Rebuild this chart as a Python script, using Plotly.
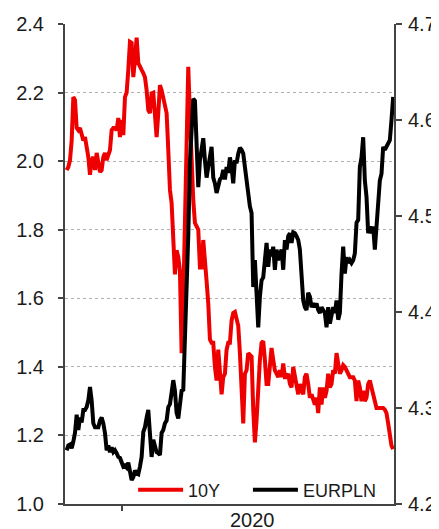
import plotly.graph_objects as go
import pandas as pd

# one point every two days, late Oct 2019 -> Nov 2020
dates = pd.date_range("2019-10-27", periods=197, freq="2D")

yield_10y = [
    1.974, 1.983, 2.003, 2.06, 2.187, 2.178, 2.097, 2.09, 2.097, 2.082,
    2.06, 2.07, 2.047, 2.012, 1.96, 2.003, 2.012, 1.974, 2.024, 1.995,
    1.968, 1.974, 2.012, 2.024, 2.003, 2.018, 2.032, 2.09, 2.097, 2.097,
    2.09, 2.126, 2.07, 2.12, 2.076, 2.187, 2.2, 2.266, 2.348, 2.345,
    2.245, 2.295, 2.36, 2.286, 2.272, 2.266, 2.257, 2.245, 2.207, 2.149,
    2.14, 2.198, 2.2, 2.129, 2.07, 2.14, 2.222, 2.207, 2.187, 2.158,
    2.14, 2.033, 1.916, 1.878, 1.78, 1.67, 1.74, 1.72, 1.68, 1.44,
    1.595, 1.837, 2.13, 2.275, 2.13, 1.983, 1.886, 1.82, 1.81, 1.80,
    1.69, 1.69, 1.77, 1.69, 1.65, 1.585, 1.48, 1.47, 1.47, 1.40,
    1.36, 1.45, 1.37, 1.32, 1.37, 1.38, 1.45, 1.47, 1.47, 1.535,
    1.557, 1.56, 1.54, 1.52, 1.44, 1.34, 1.235, 1.38, 1.39, 1.44,
    1.435, 1.43, 1.275, 1.18, 1.245, 1.36, 1.42, 1.47, 1.475, 1.42,
    1.35, 1.35, 1.42, 1.455, 1.42, 1.39, 1.38, 1.37, 1.39, 1.37,
    1.41, 1.37, 1.37, 1.38, 1.35, 1.34, 1.40, 1.37, 1.35, 1.32,
    1.35, 1.33, 1.32, 1.37, 1.38, 1.35, 1.31, 1.32, 1.30, 1.29,
    1.31, 1.265, 1.34, 1.29, 1.34, 1.31, 1.33, 1.38, 1.34, 1.35,
    1.39, 1.38, 1.44, 1.41, 1.38, 1.39, 1.405, 1.40, 1.39, 1.38,
    1.37, 1.37, 1.37, 1.36, 1.30, 1.36, 1.34, 1.30, 1.33, 1.30,
    1.31, 1.35, 1.36, 1.34, 1.32, 1.29, 1.28, 1.28, 1.28, 1.28,
    1.28, 1.275, 1.265, 1.235, 1.19, 1.17, 1.16,
]

eurpln = [
    4.256, 4.261, 4.262, 4.258, 4.265, 4.274, 4.293, 4.277, 4.29, 4.285,
    4.298, 4.298, 4.301, 4.308, 4.322, 4.308, 4.284, 4.28, 4.28, 4.28,
    4.287, 4.29, 4.284, 4.274, 4.256, 4.261, 4.254, 4.259, 4.254, 4.256,
    4.253, 4.249, 4.248, 4.244, 4.239, 4.24, 4.238, 4.243, 4.232, 4.225,
    4.228, 4.235, 4.232, 4.231, 4.239, 4.249, 4.275, 4.28, 4.29, 4.298,
    4.273, 4.249, 4.267, 4.261, 4.254, 4.253, 4.251, 4.274, 4.277, 4.284,
    4.287, 4.301, 4.304, 4.316, 4.329, 4.318, 4.295, 4.289, 4.301, 4.318,
    4.319, 4.37, 4.40, 4.48, 4.556, 4.59, 4.622, 4.62, 4.58, 4.53,
    4.558, 4.569, 4.581, 4.558, 4.54, 4.551, 4.561, 4.572, 4.54, 4.534,
    4.524, 4.53, 4.538, 4.54, 4.548, 4.538, 4.551, 4.545, 4.561, 4.551,
    4.534, 4.558, 4.555, 4.565, 4.571, 4.569, 4.565, 4.551, 4.534, 4.523,
    4.51, 4.503, 4.426, 4.454, 4.426, 4.384, 4.416, 4.433, 4.436, 4.454,
    4.472, 4.447, 4.465, 4.458, 4.468, 4.444, 4.465, 4.454, 4.461, 4.465,
    4.444, 4.475, 4.465, 4.479, 4.482, 4.472, 4.483, 4.482, 4.479, 4.475,
    4.465, 4.44, 4.412, 4.405, 4.402, 4.42, 4.416, 4.405, 4.409, 4.405,
    4.409, 4.402, 4.399, 4.405, 4.402, 4.399, 4.384, 4.405, 4.388, 4.399,
    4.405, 4.399, 4.412, 4.392, 4.399, 4.44, 4.468, 4.44, 4.457, 4.451,
    4.454, 4.451, 4.454, 4.461, 4.493, 4.496, 4.551, 4.561, 4.582, 4.537,
    4.52, 4.482, 4.489, 4.482, 4.489, 4.465, 4.493, 4.517, 4.537, 4.544,
    4.572, 4.569, 4.572, 4.576, 4.579, 4.60, 4.624,
]

year_tick = "2020-01-01"
year_label = "2020"

tick_font = dict(family="Liberation Sans, Arial, sans-serif", size=20, color="#1a1a1a")
legend_font = dict(family="Liberation Sans, Arial, sans-serif", size=18, color="#1a1a1a")
axis_col = "#444444"

fig = go.Figure()
fig.add_trace(go.Scatter(
    x=dates, y=yield_10y, mode="lines", name="10Y", legend="legend",
    line=dict(color="#ee0000", width=4),
))
fig.add_trace(go.Scatter(
    x=dates, y=eurpln, mode="lines", name="EURPLN", yaxis="y2", legend="legend2",
    line=dict(color="#000000", width=4),
))

# page body adds 8px around the figure, so margins are set 8px smaller
fig.update_layout(
    width=439, height=529,
    margin=dict(l=57, r=53, t=16, b=33),
    plot_bgcolor="white", paper_bgcolor="white",
    font=tick_font,
    showlegend=True,
    legend=dict(x=0.207, y=0.029, xanchor="left", yanchor="middle",
                bgcolor="rgba(0,0,0,0)", font=legend_font, itemwidth=45),
    legend2=dict(x=0.556, y=0.029, xanchor="left", yanchor="middle",
                 bgcolor="rgba(0,0,0,0)", font=legend_font, itemwidth=45),
    xaxis=dict(
        type="date", range=["2019-10-25", "2020-11-23"],
        tickvals=[year_tick], ticktext=[""],
        ticks="outside", ticklen=5, tickcolor=axis_col, tickwidth=1.5,
        showline=True, linecolor=axis_col, linewidth=2,
        showgrid=False, zeroline=False, automargin=False,
    ),
    yaxis=dict(
        range=[1.0, 2.4], dtick=0.2, tick0=1.0, tickformat=".1f",
        ticks="outside", ticklen=5, tickcolor=axis_col, tickwidth=1.5,
        showline=True, linecolor=axis_col, linewidth=2,
        showgrid=True, gridcolor="#b0b0b0", griddash="dot", gridwidth=1,
        zeroline=False, ticklabelstandoff=10, automargin=False,
    ),
    yaxis2=dict(
        overlaying="y", side="right",
        range=[4.2, 4.7], dtick=0.1, tick0=4.2, tickformat=".1f",
        ticks="outside", ticklen=6, tickcolor=axis_col, tickwidth=1.5,
        showline=True, linecolor=axis_col, linewidth=2,
        showgrid=False, zeroline=False, ticklabelstandoff=2, automargin=False,
    ),
    annotations=[dict(
        x=0.571, y=0, xref="paper", yref="paper",
        yanchor="top", yshift=-3, text=year_label, showarrow=False, font=tick_font,
    )],
)

fig.write_html("out.html")
